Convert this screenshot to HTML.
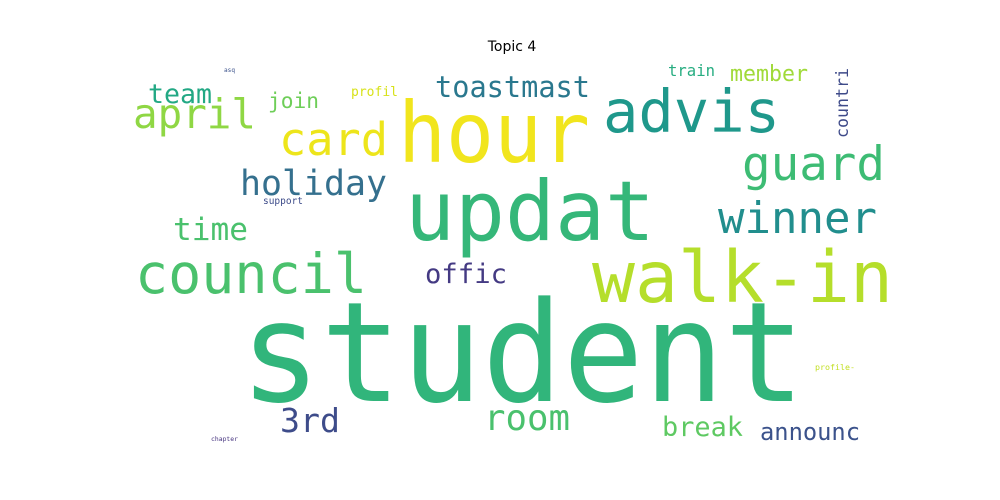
<!DOCTYPE html>
<html><head><meta charset="utf-8"><style>
html,body{margin:0;padding:0;background:#fff;}
svg{display:block}
text{font-family:"DejaVu Sans Mono","Liberation Mono",monospace;}
</style></head><body>
<svg width="1000" height="500" viewBox="0 0 1000 500">
<text x="512" y="51" text-anchor="middle" style="font-family:'DejaVu Sans','Liberation Sans',sans-serif" font-size="14" fill="#000">Topic 4</text>
<g id="words"></g>
</svg>
<script>
const words = ["student","updat","hour","walk-in","council","advis","guard","winner","card","april","holiday","toastmast","team","time","join","offic","3rd","room","break","announc","member","train","profil","countri","asq","support","chapter","profile-"];
const weights = [139,83,84,71,55,59,47,44,45,41,35,29,27,31,21,27,33,36,27,24,22,16,13,17,6,9.5,6.5,8];
const colors = ["#31b57b","#35b779","#f1e51d","#b5de2b","#4ac16d","#1f988b","#3dbc74","#218e8d","#ede51b","#8fd744","#35708e","#2a788e","#22a884","#4ac16d","#6ece58","#443a83","#3e4c8a","#4ac16d","#5ec962","#3b528b","#a0da39","#27ad81","#d8e219","#3e4a89","#3b528b","#3e4c8a","#46337f","#c2df23"];
const layout = [[240,401,565],[405,240,250],[398,162,192],[592,302,301],[135,293,232],[603,132,177],[742,180,143],[718,233,159],[279,155,109],[133,128,123],[240,195,147],[435,97,155],[148,103,64],[173,240,75],[268,108,51],[425,283,82],[280,432,60],[484,430,86],[662,436,81],[760,440,100],[730,81,78],[668,76,47],[351,96,47],[848,138,70],[224,72,11],[263,204,40],[211,441,27],[815,370,40]];
const g = document.getElementById('words');
words.forEach((w,i)=>{
  const [x,y,len] = layout[i];
  const t = document.createElementNS('http://www.w3.org/2000/svg','text');
  t.setAttribute('x', x);
  t.setAttribute('y', y);
  t.setAttribute('font-size', weights[i]);
  t.setAttribute('fill', colors[i]);
  t.setAttribute('textLength', len);
  t.setAttribute('lengthAdjust', 'spacingAndGlyphs');
  if (w === 'countri') t.setAttribute('transform', `rotate(-90 ${x} ${y})`);
  t.textContent = w;
  
  
  g.appendChild(t);
});
</script>
</body></html>
